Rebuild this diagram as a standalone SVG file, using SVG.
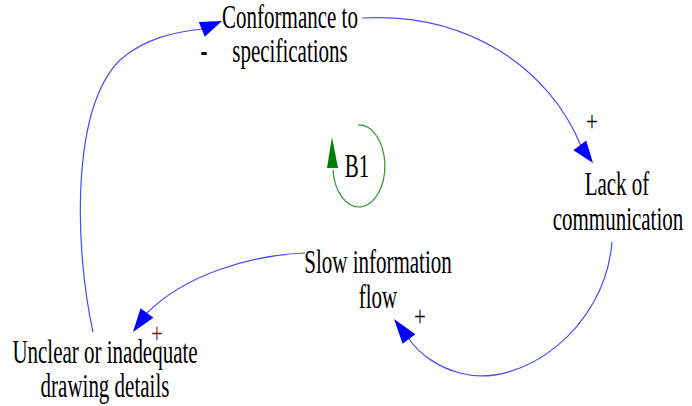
<svg xmlns="http://www.w3.org/2000/svg" width="692" height="406" viewBox="0 0 692 406">
<style>
.t{font-family:"Liberation Serif","Times New Roman",serif;font-size:21px;fill:#000;text-anchor:middle}
.ln{fill:none;stroke:#4a4aff;stroke-width:1.2}
.ah{fill:#0000ff}
</style>
<rect width="692" height="406" fill="#fff"/>
<g id="connectors">
<path class="ln" d="M 362 18 C 470 12, 550 70, 581 146"/>
<polygon class="ah" points="593,163 573.4,150.2 586.2,140.6"/>
<path class="ln" d="M 612 242 C 605 330, 520 390, 460 373 C 440 368, 420 355, 409 339"/>
<polygon class="ah" points="394,319 415.4,334.2 402.6,343.8"/>
<path class="ln" d="M 305 253 C 250 255, 185 275, 147 313"/>
<polygon class="ah" points="133,332 140.6,308.2 153.4,317.8"/>
<path class="ln" d="M 93 332 C 75 250, 70 110, 120 60 C 145 38, 175 32, 202 29"/>
<polygon class="ah" points="222,21 198.8,22 204.8,36.8"/>
</g>
<g id="loop-B1">
<path d="M 358 125 A 26 41 0 1 1 333 170" fill="none" stroke="#2a9a2a" stroke-width="1.2"/>
<polygon points="327,168 338,168 332,137" fill="#008000"/>
<text class="t" transform="matrix(1 0 0 1.6 357 177)" font-size="22">B1</text>
</g>
<g id="node-conformance">
<text class="t" transform="matrix(1 0 0 1.58 290 28)">Conformance to</text>
<text class="t" transform="matrix(1 0 0 1.65 290 62)">specifications</text>
</g>
<g id="node-lack">
<text class="t" transform="matrix(1 0 0 1.65 617 195)">Lack of</text>
<text class="t" transform="matrix(1 0 0 1.65 618 230)">communication</text>
</g>
<g id="node-slow">
<text class="t" transform="matrix(1 0 0 1.65 378 273)">Slow information</text>
<text class="t" transform="matrix(1 0 0 1.65 378 308)">flow</text>
</g>
<g id="node-unclear">
<text class="t" transform="matrix(1 0 0 1.65 105 363)">Unclear or inadequate</text>
<text class="t" transform="matrix(1 0 0 1.65 105 397)">drawing details</text>
</g>
<g id="polarities">
<text class="t" transform="matrix(1 0 0 1.4 592 131)" font-size="17">+</text>
<text class="t" transform="matrix(1 0 0 1.4 420 326)" font-size="17">+</text>
<text class="t" transform="matrix(1 0 0 1.4 157 343)" font-size="17" style="fill:#7a1010">+</text>
<text class="t" transform="matrix(1 0 0 1.65 204 62)" font-weight="bold">-</text>
</g>
</svg>
